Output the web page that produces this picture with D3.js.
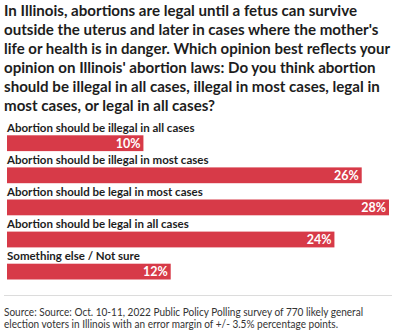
<!DOCTYPE html>
<html>
<head>
<meta charset="utf-8">
<script src="https://cdn.jsdelivr.net/npm/d3@7"></script>
<style>
  html, body { margin: 0; padding: 0; background: #fff; }
  svg { display: block; }
</style>
</head>
<body>
<div id="chart"></div>
<script>
// Poll answers and shares (percent)
const categories = [
  "Abortion should be illegal in all cases",
  "Abortion should be illegal in most cases",
  "Abortion should be legal in most cases",
  "Abortion should be legal in all cases",
  "Something else / Not sure"
];
const values = [10, 26, 28, 24, 12];

const titleLines = [
  "In Illinois, abortions are legal until a fetus can survive",
  "outside the uterus and later in cases where the mother's",
  "life or health is in danger. Which opinion best reflects your",
  "opinion on Illinois' abortion laws: Do you think abortion",
  "should be illegal in all cases, illegal in most cases, legal in",
  "most cases, or legal in all cases?"
];
const sourceLines = [
  "Source: Source: Oct. 10-11, 2022 Public Policy Polling survey of 770 likely general",
  "election voters in Illinois with an error margin of +/- 3.5% percentage points."
];

const W = 395, H = 335;
const font = "'Source Sans Pro', Lato, 'Noto Sans', sans-serif";
const svg = d3.select("#chart").append("svg")
  .attr("width", W).attr("height", H)
  .style("font-family", font);

svg.append("rect").attr("width", W).attr("height", H).attr("fill", "#fff");

// Scale a block of text lines horizontally by one common factor so that
// its first line spans the given width (glyph height stays as set).
function fitBlock(sel, firstLineWidth, maxRight) {
  const nodes = sel.nodes();
  const k = firstLineWidth / nodes[0].getComputedTextLength();
  nodes.forEach(n => {
    const w = n.getComputedTextLength();
    const x0 = +n.getAttribute("x");
    n.setAttribute("textLength", Math.min(w * k, maxRight - x0));
    n.setAttribute("lengthAdjust", "spacingAndGlyphs");
  });
}

// Title
const title = svg.append("g").selectAll("text").data(titleLines).join("text")
  .attr("x", 4)
  .attr("y", (d, i) => 15.5 + i * 19)
  .attr("font-size", 15)
  .attr("font-weight", 700)
  .attr("fill", "#1d1d1d")
  .text(d => d);
fitBlock(title, 353, 390);

// Bars
const x = d3.scaleLinear().domain([0, d3.max(values)]).range([7, 389]);
const y = d3.scaleBand().domain(categories).range([119, 279.5]).paddingInner(0).paddingOuter(0);
const barH = 15.8;

const rows = svg.append("g").selectAll("g").data(categories).join("g")
  .attr("transform", d => `translate(0,${y(d)})`);

rows.append("text")
  .attr("x", 7)
  .attr("y", 13)
  .attr("font-size", 11.5)
  .attr("font-weight", 700)
  .attr("fill", "#1d1d1d")
  .text(d => d);

rows.append("rect")
  .attr("x", x(0))
  .attr("y", y.bandwidth() - barH)
  .attr("width", (d, i) => x(values[i]) - x(0))
  .attr("height", barH)
  .attr("fill", "#d73a48");

rows.append("text")
  .attr("x", (d, i) => x(values[i]) - 3)
  .attr("y", y.bandwidth() - barH / 2 + 4.5)
  .attr("text-anchor", "end")
  .attr("font-size", 12.5)
  .attr("font-weight", 700)
  .attr("fill", "#fff")
  .text((d, i) => values[i] + "%");

// Footer
svg.append("line")
  .attr("x1", 4).attr("x2", 392)
  .attr("y1", 295.5).attr("y2", 295.5)
  .attr("stroke", "#dcdcdc").attr("stroke-width", 1);

const source = svg.append("g").selectAll("text").data(sourceLines).join("text")
  .attr("x", 4)
  .attr("y", (d, i) => 315.5 + i * 12.5)
  .attr("font-size", 10.6)
  .attr("fill", "#333")
  .text(d => d);
fitBlock(source, 359, 392);
</script>
</body>
</html>
